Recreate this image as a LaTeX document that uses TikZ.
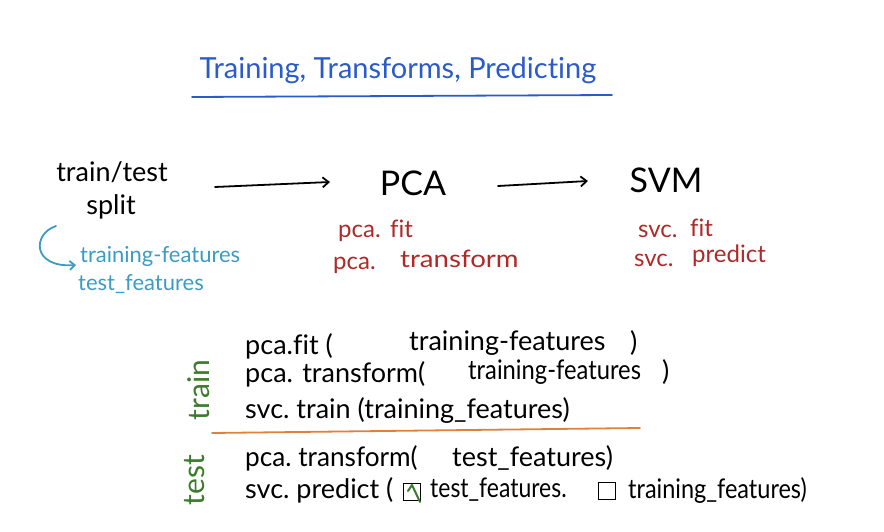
\documentclass[tikz,border=0pt]{standalone}
\usepackage{fontspec}
\setmainfont[Ligatures=NoCommon]{Lato}
\usetikzlibrary{arrows.meta}
\definecolor{titleblue}{HTML}{2A5BC8}
\definecolor{cyanish}{HTML}{3A9CC4}
\definecolor{redish}{HTML}{B02828}
\definecolor{greenish}{HTML}{3C7A2C}
\definecolor{orangeish}{HTML}{E0803A}
\tikzset{
  pen/.style={line width=1.8pt, line cap=round},
  arr/.style={pen, -{Straight Barb[length=6pt,width=10pt]}},
  txt/.style={inner sep=0pt, anchor=west},
  code/.style={txt, font=\fontsize{27}{27}\selectfont, text=black},
  redtxt/.style={txt, font=\fontsize{24}{24}\selectfont, text=redish},
  bluetxt/.style={txt, font=\fontsize{22}{22}\selectfont, text=cyanish},
  big/.style={inner sep=0pt, font=\fontsize{34}{34}\selectfont},
  side/.style={inner sep=0pt, font=\fontsize{30}{30}\selectfont, text=greenish, rotate=90},
  cbox/.style={draw=black, line width=1.6pt, minimum size=17pt, inner sep=0pt}
}
\begin{document}
\begin{tikzpicture}[x=1pt,y=-1pt]
\useasboundingbox (0,0) rectangle (884,532);
% title
\node[inner sep=0pt, font=\fontsize{29}{29}\selectfont, text=titleblue] (title) at (398,70) {Training, Transforms, Predicting};
\coordinate (ul1) at (192,97);
\coordinate (ul2) at (612,95);
\draw[pen, titleblue] (ul1) -- (ul2);
% pipeline
\node[inner sep=0pt, font=\fontsize{27}{27}\selectfont] (tt) at (112,172) {train/test};
\node[inner sep=0pt, font=\fontsize{27}{27}\selectfont] (split) at (111,207) {split};
\node[big] (pca) at (413,183) {PCA};
\node[big] (svm) at (666,180) {SVM};
\coordinate (a1s) at (215,187);
\coordinate (a1e) at (330,182);
\draw[arr] (a1s) -- (a1e);
\coordinate (a2s) at (498,186);
\coordinate (a2e) at (588,181);
\draw[arr] (a2s) -- (a2e);
% red labels
\node[redtxt] (pfit1) at (338,233) {pca.};
\node[redtxt] (pfit2) at (390,229) {fit};
\node[redtxt] (ptr1) at (333,265) {pca.};
\node[redtxt] (ptr2) at (400,259) {\scalebox{1.15}[1]{transform}};
\node[redtxt] (sfit1) at (638,231) {svc.};
\node[redtxt] (sfit2) at (690,228) {fit};
\node[redtxt] (spr1) at (634,260) {svc.};
\node[redtxt] (spr2) at (692,256) {predict};
% blue labels
\node[bluetxt] (trf) at (80,256) {training-features};
\node[bluetxt] (tef) at (78,284) {test\_features};
\coordinate (cs) at (56,226);
\coordinate (ce) at (76,265);
\draw[pen, cyanish, -{Straight Barb[length=5pt,width=9pt]}] (cs) .. controls (32,234) and (32,268) .. (ce);
% code lines
\node[code] (l1a) at (245,346) {pca.fit (};
\node[code] (l1b) at (409,343) {training-features};
\node[code] (l1c) at (630,343) {)};
\node[code] (l2a) at (245,374) {pca. transform(};
\node[code] (l2b) at (468,372) {\scalebox{0.88}[1]{training-features}};
\node[code] (l2c) at (662,372) {)};
\node[code] (l3) at (245,410) {svc.\ train (training\_features)};
\coordinate (o1) at (212,433);
\coordinate (o2) at (640,428);
\draw[pen, orangeish] (o1) -- (o2);
\node[code] (l4a) at (245,458) {\scalebox{0.97}[1]{pca.\ transform(}};
\node[code] (l4b) at (452,458) {test\_features)};
\node[code] (l5a) at (245,490) {svc.\ predict (};
\node[cbox] (b1) at (412,492) {};
\draw[line width=2pt, greenish, line cap=round, line join=round] ([shift={(-4pt,1pt)}]b1.center) -- ([shift={(0pt,7pt)}]b1.center) -- ([shift={(8pt,-10pt)}]b1.center);
\node[code] (l5b) at (430,490) {\scalebox{0.85}[1]{test\_features.}};
\node[cbox] (b2) at (607,491) {};
\node[code] (l5c) at (628,490) {\scalebox{0.87}[1]{training\_features)}};
% side labels
\node[side] (sidetrain) at (199,390) {train};
\node[side] (sidetest) at (195,480) {test};
\end{tikzpicture}
\end{document}
